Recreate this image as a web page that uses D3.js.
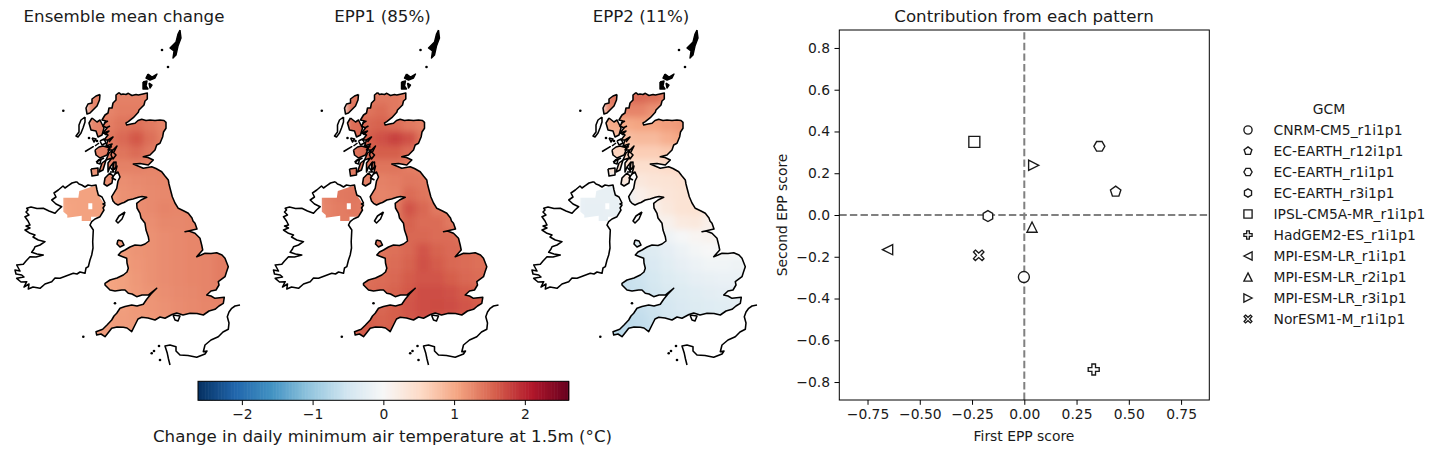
<!DOCTYPE html>
<html><head><meta charset="utf-8">
<script src="https://cdn.jsdelivr.net/npm/d3@7"></script>
<style>html,body{margin:0;padding:0;background:#fff}svg{display:block}text{font-family:"DejaVu Sans";fill:#1a1a1a}</style>
</head><body><svg id="c" width="1440" height="454"></svg>
<script>
// ---------- data ----------
const n = null;
const panelTitles = ["Ensemble mean change","EPP1 (85%)","EPP2 (11%)"];
const rdbuColors = ["#053061","#2166ac","#4393c3","#92c5de","#d1e5f0","#f7f7f7","#fddbc7","#f4a582","#d6604d","#b2182b","#67001f"];
// gridded temperature change (deg C), rows north to south, 14-unit cells
const ensembleMean = [
[n,n,1.3,1.3,1.32,1.32,1.3,1.3,n,n,n,n,n],
[n,n,1.3,1.3,1.35,1.35,1.32,1.3,n,n,n,n,n],
[n,n,1.3,1.35,1.42,1.45,1.38,1.3,1.28,n,n,n,n],
[n,n,1.3,1.4,1.5,1.62,1.45,1.32,1.28,n,n,n,n],
[n,n,1.3,1.35,1.42,1.48,1.38,1.3,1.28,n,n,n,n],
[n,n,1.25,1.3,1.32,1.32,1.3,1.3,1.28,1.28,n,n,n],
[1.07,1.07,1.07,1.22,1.22,1.25,1.27,1.28,1.28,1.28,n,n,n],
[1.07,1.07,1.07,1.07,1.2,1.22,1.25,1.27,1.28,1.28,n,n,n],
[1.05,1.07,1.07,1.07,1.2,1.22,1.25,1.3,1.28,1.28,1.28,n,n],
[1.05,1.07,1.07,1.07,1.2,1.22,1.22,1.27,1.27,1.28,1.28,n,n],
[n,n,n,1.1,1.12,1.2,1.2,1.24,1.26,1.28,1.3,1.3,n],
[n,n,n,1.12,1.12,1.18,1.2,1.24,1.26,1.28,1.3,1.33,1.33],
[n,n,n,1.1,1.12,1.16,1.2,1.24,1.26,1.28,1.3,1.35,1.35],
[n,n,1.05,1.05,1.08,1.15,1.2,1.24,1.26,1.28,1.3,1.35,1.35],
[n,n,1.05,1.05,1.08,1.14,1.18,1.22,1.25,1.27,1.3,1.32,1.32],
[n,n,1.08,1.08,1.1,1.14,1.17,1.2,1.24,1.26,1.28,1.3,1.3],
[n,1.1,1.1,1.1,1.12,1.13,1.15,1.18,1.22,1.24,1.25,n,n],
[n,1.12,1.12,1.12,1.12,1.12,1.15,n,n,n,n,n,n]];
const epp1 = [
[n,n,1.38,1.38,1.38,1.38,1.32,1.28,n,n,n,n,n],
[n,n,1.42,1.42,1.47,1.38,1.32,1.28,n,n,n,n,n],
[n,n,1.47,1.52,1.55,1.48,1.38,1.32,1.3,n,n,n,n],
[n,n,1.47,1.58,1.68,1.78,1.68,1.42,1.32,n,n,n,n],
[n,n,1.42,1.52,1.58,1.58,1.48,1.35,1.32,n,n,n,n],
[n,n,1.38,1.42,1.42,1.42,1.35,1.32,1.3,1.3,n,n,n],
[1.32,1.35,1.35,1.32,1.32,1.35,1.4,1.38,1.32,1.32,n,n,n],
[1.32,1.38,1.4,1.35,1.3,1.32,1.48,1.42,1.32,1.32,n,n,n],
[1.3,1.35,1.38,1.35,1.32,1.38,1.65,1.52,1.38,1.38,1.38,n,n],
[1.3,1.35,1.35,1.35,1.32,1.42,1.55,1.48,1.48,1.38,1.38,n,n],
[n,n,n,1.42,1.42,1.48,1.52,1.52,1.48,1.48,1.42,1.42,n],
[n,n,n,1.42,1.42,1.45,1.52,1.65,1.55,1.5,1.48,1.45,1.42],
[n,n,n,1.42,1.45,1.48,1.55,1.68,1.6,1.52,1.48,1.45,1.45],
[n,n,1.42,1.45,1.48,1.52,1.6,1.65,1.65,1.58,1.52,1.48,1.48],
[n,n,1.42,1.48,1.5,1.55,1.62,1.7,1.7,1.68,1.6,1.55,1.52],
[n,n,1.48,1.52,1.52,1.58,1.65,1.7,1.72,1.7,1.65,1.6,1.55],
[n,1.55,1.55,1.58,1.55,1.58,1.62,1.68,1.65,1.6,1.58,n,n],
[n,1.55,1.55,1.6,1.58,1.58,1.58,n,n,n,n,n,n]];
const epp2 = [
[n,n,1.4,1.5,1.5,1.45,1.35,1.3,n,n,n,n,n],
[n,n,1.3,1.3,1.3,1.2,1.1,1.1,n,n,n,n,n],
[n,n,1.0,1.0,1.05,1.05,1.1,1.15,1.15,n,n,n,n],
[n,n,.8,.8,.85,.85,.95,1.05,1.05,n,n,n,n],
[n,n,.6,.6,.65,.65,.7,.7,.7,n,n,n,n],
[n,n,.45,.45,.45,.45,.5,.55,.55,.55,n,n,n],
[-.2,-.2,-.2,.3,.3,.35,.38,.42,.42,.42,n,n,n],
[-.2,-.2,-.2,-.2,.15,.25,.33,.38,.38,.38,n,n,n],
[-.22,-.22,-.2,-.2,.1,.15,.28,.38,.4,.3,.3,n,n],
[-.22,-.22,-.22,-.2,.1,.1,.12,.25,.28,.15,.12,n,n],
[n,n,n,-.3,-.3,-.15,-.12,-.03,.06,.1,.08,.05,n],
[n,n,n,-.4,-.38,-.34,-.25,-.15,-.06,0,-.02,0,0],
[n,n,n,-.48,-.45,-.4,-.3,-.22,-.15,-.1,-.1,-.12,-.12],
[n,n,-.6,-.6,-.55,-.45,-.36,-.3,-.24,-.2,-.18,-.18,-.18],
[n,n,-.6,-.6,-.58,-.5,-.42,-.36,-.32,-.28,-.25,-.22,-.22],
[n,n,-.65,-.62,-.6,-.55,-.46,-.4,-.36,-.33,-.3,-.28,-.28],
[n,-.72,-.72,-.7,-.65,-.58,-.5,-.44,-.42,-.38,-.36,n,n],
[n,-.72,-.72,-.7,-.68,-.62,-.55,n,n,n,n,n,n]];
const fields = [ensembleMean, epp1, epp2];
// coastlines as [east, south] map-grid units
const greatBritain = [[119,92.7],[121,94.5],[123,94],[126,94.5],[128.3,93.3],[132,95.5],[136,94.5],[138.3,95],[143,94],[147.3,93],[147.3,99],[145,101],[144,105],[141,108],[139,110],[138.3,112.3],[133.3,117.7],[128.3,121.7],[126,123],[126.7,125],[131,124],[135,123.3],[138,120.5],[141.7,119.3],[146,120.5],[150,120],[155,120.5],[160,120],[164,120.5],[166,122.3],[166,128.3],[163.5,132],[162.7,136.7],[160,143.3],[156.7,145],[155,150],[150,155],[143.3,156.7],[148,157.5],[153.3,160],[148.3,165],[140,163.5],[133.3,164],[138,166],[143.3,168.3],[151.7,166.7],[156,168.5],[161.7,171.7],[165,176],[168.3,180],[169,184],[170,188],[172.3,196.7],[175,203],[178.3,208.3],[184,211],[188.3,213.3],[192,218],[193,221],[195,223.3],[197,229],[185,231.7],[189,231],[195,233.3],[200,238.3],[201.7,245],[202.7,250],[196.7,256.7],[201,255],[205,253.3],[211,253.5],[216.7,252.7],[222,255],[225,258.3],[228.3,266.7],[226.5,272],[225,276.7],[218.3,281.7],[219,285],[216,290],[211,291],[206.7,295],[211,296],[215,298.3],[224.3,297.3],[223.3,303.3],[219,306],[215,309.3],[209,311],[203.3,315],[197,313.5],[190,313.3],[183,315],[176.7,313],[172,314.5],[165,318.3],[160,317],[155,320],[148,318],[141.7,317.3],[138,319],[135,325],[131.7,331.7],[127,328],[123.3,327.3],[117,327],[111.7,328.3],[108,333],[105,336.7],[101,334],[96.7,335],[96,331.7],[102.7,329.3],[107,325],[111.7,320],[114,316],[116.7,313.3],[120,308.3],[125,306.5],[131.7,305],[137,306],[143.3,304.3],[146.7,299.3],[151,294],[156.7,288.3],[152,292],[148.3,295],[142,295],[136.7,296.7],[132,294],[128.3,293.3],[125,290],[121.7,290],[115,291],[110,290],[105,285],[105,283.3],[110,280],[117,278],[123.3,275],[127,272],[128.3,268.3],[127,263],[126.7,258.3],[122,256.5],[118.3,255],[121,252],[125,250],[130,247],[135,245],[141,245.5],[145,244],[149,241],[148.3,236.7],[146,230],[145,223.3],[141,218],[140,213.3],[137,208],[136.7,203.3],[141,200],[146.7,197.3],[142,196.5],[138.3,197.3],[133,199],[128.3,200],[124,202.5],[121.7,203.3],[118,205],[115,203.3],[113,201],[111.7,196.7],[116.7,188.3],[118,181],[120,177],[118,172],[115,174],[117,166],[113,170],[114,162],[110,167],[108,172],[108,163],[112,158],[106,160],[109,153],[113,150],[108,150],[112,144],[106,146],[108,140],[104,140],[108,135],[103,133],[107,128],[103,126],[106,121],[102,120],[105,115],[108,113],[109,108],[112,108],[113,103],[116,100],[116,95],[119,92.7]];
const ireland = [[76.7,181.7],[79,184],[81.7,185],[85,187],[88,185],[91.7,185.7],[96,185],[97,190],[98.3,195],[102,197],[105,203],[103,204],[105,205],[103,208],[104,210],[100,216.7],[95,219],[91.7,221.7],[90,225],[93.3,230],[93,236],[92.7,241.7],[93,248],[91.7,255],[90,260],[88.3,266.7],[86,268],[85,273.3],[80,272],[77,274],[73.3,273.3],[66,276],[60,278.3],[55,278],[51.7,281.7],[45,284],[40,288.3],[33,287],[28.3,289],[29,284],[24,287],[26.7,281.7],[21,282],[16.7,278.3],[24,277],[21.7,275],[16,274],[15,270],[20,271],[16.7,265],[23.3,264.3],[26,261],[30,256.7],[36,257],[43.3,255],[37,254],[31.7,252.3],[34,249],[35,246.7],[40,245],[45,241.7],[38.3,240],[33,237],[35,235],[30,233.3],[25,230],[30,228],[26,226],[30,225],[28,221],[25,216.7],[29,215],[26,212],[28,210],[26.7,208.3],[31,207],[37,208.5],[43.3,208.3],[49,211],[55,213.3],[58,210],[61.7,206.7],[56,204],[51.7,200],[56,197],[54,193],[58.3,190],[63,186],[65,188],[68.3,185.7],[72,183],[76.7,181.7]];
const northIrelandLand = [[63.3,197.7],[78.3,197.7],[79.3,191],[91.7,186.7],[96,185.7],[98.3,195],[105,205],[104,210],[99.3,216.7],[91,216.7],[91,221],[81.7,221],[81.7,215.7],[67.3,217.7],[67.3,215],[63.3,211.7]];
const loughNeagh = [[88.3,203.3],[92.3,203.3],[92.3,209.3],[88.3,209.3]];
const france = [[240,305],[235,306],[231.7,308.3],[229,312],[227.3,316.7],[229,323],[228.3,329.3],[223,332],[218.3,336.7],[211,340],[205,345],[203.3,351.7],[207,351],[205,354],[196.7,357.3],[188,355.5],[180,355],[176,351],[176,346.7],[170,345],[165,346],[167.3,353.3],[168.5,359],[170,365]];
const filledIslands = [
[[100,94.5],[99.5,100],[97,106],[93,110],[90,113],[87,114],[86,108],[88,104],[92,103],[92,99],[96,96],[100,94.5]],
[[92,118],[97,122],[100,120],[104,128],[102,135],[98,137],[96,131],[91,130],[89,123],[92,118]],
[[95,150],[99,147],[103,146],[110,148],[107,155],[100,158],[96,155],[95,150]],
[[91,169],[98,168],[98,175],[92,176],[91,169]],
[[102,163],[106,160],[103,170],[99,172],[102,163]],
[[110,173],[113,176],[112,183],[107,186],[104,184],[105,178],[110,173]],
[[118,240],[122,241],[124,245],[120,247],[117,244],[118,240]]];
const outlineIslands = [
[[85,117],[85,122],[83,128],[81,133],[78,137],[76,136],[79,132],[79,125],[81,120],[85,117]],
[[85,151.7],[93.3,146.7],[86,151],[85,151.7]],
[[100,141],[104,139],[106,143],[102,145],[100,141]],
[[92,138],[96,139],[94,142],[92,138]],
[[98,160],[101,159],[100,164],[97,163],[98,160]],
[[112,151],[116,155],[113,159],[111,155],[112,151]],
[[113,163],[116,162],[116,168],[113,170],[113,163]],
[[125,212],[122,219],[118,223],[116,221],[119,216],[125,212]],
[[173,315],[180,316],[178,321],[175,320],[173,315]]];
const solidIslands = [
[[180,30],[178,34],[177,38],[176,42],[172,46],[170,48],[174,51],[173,58],[176,55],[178,46],[181,38],[180,30]],
[[148,74],[152,77],[157,74],[155,78],[150,80],[146,78],[148,74]],
[[143,82],[147,81],[146,86],[148,89],[143,89],[143,82]],
[[149,83],[152,85],[150,88],[149,83]]];
const lochLines = [
[[113,150],[117,146],[114,152]],[[108,140],[113,137],[109,142]],[[106,146],[112,147]],
[[103,133],[109,131],[105,135]],[[110,167],[114,172],[110,172]],[[115,174],[112,178],[116,180]],
[[96,162],[104,158]],[[99,143],[95,146]],[[106,128],[110,126]],[[104,123],[108,121]]];
const dotIslands = [[162,50],[168,67],[63.3,110.7],[83.3,336.7],[115,303.3],[151.7,353.3],[154,351],[160,360],[159,346],[89,138],[97,141]];
// scatter
const gcmNames = ["CNRM-CM5_r1i1p1","EC-EARTH_r12i1p1","EC-EARTH_r1i1p1","EC-EARTH_r3i1p1","IPSL-CM5A-MR_r1i1p1","HadGEM2-ES_r1i1p1","MPI-ESM-LR_r1i1p1","MPI-ESM-LR_r2i1p1","MPI-ESM-LR_r3i1p1","NorESM1-M_r1i1p1"];
const firstScore = [-0.002,0.437,0.359,-0.174,-0.239,0.332,-0.654,0.037,0.045,-0.218];
const secondScore = [-0.297,0.112,0.329,-0.005,0.35,-0.74,-0.166,-0.058,0.238,-0.193];
const markerKinds = ["circle","pentagon","hexFlat","hexPoint","square","plus","left","up","right","cross"];
const xTicks = [-0.75,-0.5,-0.25,0,0.25,0.5,0.75];
const yTicks = [-0.8,-0.6,-0.4,-0.2,0,0.2,0.4,0.6,0.8];
const cbarTicks = [-2,-1,0,1,2];

// ---------- helpers ----------
const svg = d3.select("#c");
const minus = s => s.replace("-", "\u2212");
const limit = 2.62;
const color = d3.scaleLinear().domain(d3.range(11).map(i => -limit + i * limit / 5)).range(rdbuColors).interpolate(d3.interpolateRgb);
const defs = svg.append("defs");
defs.append("filter").attr("id","soft").attr("x","-10%").attr("y","-10%").attr("width","120%").attr("height","120%")
  .append("feGaussianBlur").attr("stdDeviation",3.2);

function markerPath(kind, r) {
  const poly = (k, rot) => "M" + d3.range(k).map(i => { const a = rot + i * 2 * Math.PI / k; return [r * Math.sin(a), -r * Math.cos(a)].join(","); }).join("L") + "Z";
  const s = r;
  switch (kind) {
    case "circle": return d3.arc()({innerRadius:0,outerRadius:r,startAngle:0,endAngle:2*Math.PI});
    case "pentagon": return poly(5, 0);
    case "hexFlat": return poly(6, Math.PI / 6);
    case "hexPoint": return poly(6, 0);
    case "square": return `M${-s},${-s}H${s}V${s}H${-s}Z`;
    case "up": return `M0,${-s}L${s},${s}H${-s}Z`;
    case "left": return `M${-s},0L${s},${-s}V${s}Z`;
    case "right": return `M${s},0L${-s},${-s}V${s}Z`;
    case "plus": { const a=s,b=s*.33; return `M${-b},${-a}H${b}V${-b}H${a}V${b}H${b}V${a}H${-b}V${b}H${-a}V${-b}H${-b}Z`; }
    case "cross": { const a=s*.95,b=s*.34; return `M${-a+b},${-a}L0,${-a+b*1.6}L${a-b},${-a}L${a},${-a+b}L${a-b*1.6},0L${a},${a-b}L${a-b},${a}L0,${a-b*1.6}L${-a+b},${a}L${-a},${a-b}L${-a+b*1.6},0L${-a},${-a+b}Z`; }
  }
}

// ---------- maps ----------
const panelStart = [0, 258.5, 517];
const mapCell = 14, mapEast0 = 60, mapSouth0 = 90;
panelStart.forEach((p0, k) => {
  const east = d3.scaleLinear().domain([0,260]).range([p0, p0 + 260]);
  const south = d3.scaleLinear().domain([0,454]).range([0,454]);
  const line = d3.line().x(d => east(d[0])).y(d => south(d[1]));
  const cp = defs.append("clipPath").attr("id","land"+k);
  [greatBritain, ...filledIslands].forEach(r => cp.append("path").attr("d", line(r)));
  cp.append("path").attr("clip-rule","evenodd").attr("d", line(northIrelandLand) + "Z" + line(loughNeagh) + "Z");
  const g = svg.append("g");
  const cells = [];
  fields[k].forEach((row,j) => row.forEach((v,i) => { if (v !== null) cells.push({i,j,v}); }));
  g.append("g").attr("clip-path",`url(#land${k})`).append("g").attr("filter","url(#soft)")
    .selectAll("rect").data(cells).join("rect")
    .attr("x", d => east(mapEast0 + d.i * mapCell) - .5)
    .attr("y", d => south(mapSouth0 + d.j * mapCell) - .5)
    .attr("width", east(mapCell) - east(0) + 1)
    .attr("height", south(mapCell) - south(0) + 1)
    .attr("fill", d => color(d.v));
  const strokes = [greatBritain, ireland, france, ...filledIslands, ...outlineIslands, ...lochLines];
  g.selectAll("path.coast").data(strokes).join("path").attr("class","coast")
    .attr("d", line).attr("fill","none").attr("stroke","#000").attr("stroke-width",1.55).attr("stroke-linejoin","round");
  g.selectAll("path.solid").data(solidIslands).join("path").attr("class","solid")
    .attr("d", line).attr("fill","#000").attr("stroke","#000").attr("stroke-width",1.4).attr("stroke-linejoin","round");
  g.selectAll("circle.dot").data(dotIslands).join("circle").attr("class","dot")
    .attr("cx", d => east(d[0])).attr("cy", d => south(d[1])).attr("r",1.3).attr("fill","#000");
  svg.append("text").attr("x", east(124)).attr("y", 22).attr("text-anchor","middle").attr("font-size",16.67).text(panelTitles[k]);
});

// ---------- colour bar ----------
const cbX = d3.scaleLinear().domain([-limit,limit]).range([198,568.7]);
const cbTop = 381.3, cbBottom = 400.3;
const stepsBar = d3.range(256).map(i => -limit + (i + .5) * 2 * limit / 256);
svg.append("g").selectAll("rect").data(stepsBar).join("rect")
  .attr("x", d => cbX(d - limit / 256)).attr("y", cbTop)
  .attr("width", cbX(limit / 128) - cbX(0) + .6).attr("height", cbBottom - cbTop)
  .attr("fill", d => color(d));
svg.append("rect").attr("x",198).attr("y",cbTop).attr("width",370.7).attr("height",cbBottom-cbTop).attr("fill","none").attr("stroke","#000").attr("stroke-width",1);
const cbAxis = svg.append("g").attr("transform",`translate(0,${cbBottom})`)
  .call(d3.axisBottom(cbX).tickValues(cbarTicks).tickSize(4.8).tickPadding(4.5).tickFormat(d => minus(String(d))));
cbAxis.select(".domain").remove();
cbAxis.selectAll("text").attr("font-size",13.89).attr("font-family","DejaVu Sans");
svg.append("text").attr("x",382.5).attr("y",442).attr("text-anchor","middle").attr("font-size",16.67).text("Change in daily minimum air temperature at 1.5m (°C)");

// ---------- scatter ----------
const L = 839.3, R = 1209.3, T = 30, B = 400;
const x = d3.scaleLinear().domain([-0.885,0.885]).range([L,R]);
const y = d3.scaleLinear().domain([-0.886,0.886]).range([B,T]);
svg.append("line").attr("x1",L).attr("x2",R).attr("y1",y(0)).attr("y2",y(0)).attr("stroke","#808080").attr("stroke-width",2).attr("stroke-dasharray","7.4,3.2");
svg.append("line").attr("x1",x(0)).attr("x2",x(0)).attr("y1",B).attr("y2",T).attr("stroke","#808080").attr("stroke-width",2).attr("stroke-dasharray","7.4,3.2");
svg.append("g").selectAll("path").data(gcmNames).join("path")
  .attr("transform",(d,i) => `translate(${x(firstScore[i])},${y(secondScore[i])})`)
  .attr("d",(d,i) => markerPath(markerKinds[i], ["up","left","right"].includes(markerKinds[i]) ? 5.1 : 5.5))
  .attr("fill","#fff").attr("stroke","#1a1a1a").attr("stroke-width",1.35);
svg.append("rect").attr("x",L).attr("y",T).attr("width",R-L).attr("height",B-T).attr("fill","none").attr("stroke","#000").attr("stroke-width",1);
const ax = svg.append("g").attr("transform",`translate(0,${B})`)
  .call(d3.axisBottom(x).tickValues(xTicks).tickSize(4.8).tickPadding(4.5).tickFormat(d => minus(d3.format(".2f")(d))));
const ay = svg.append("g").attr("transform",`translate(${L},0)`)
  .call(d3.axisLeft(y).tickValues(yTicks).tickSize(4.8).tickPadding(4.5).tickFormat(d => minus(d3.format(".1f")(d))));
[ax,ay].forEach(a => { a.select(".domain").remove(); a.selectAll("text").attr("font-size",13.89).attr("font-family","DejaVu Sans"); });
svg.append("text").attr("x",1024).attr("y",441).attr("text-anchor","middle").attr("font-size",13.89).text("First EPP score");
svg.append("text").attr("transform",`translate(787,${y(0)}) rotate(-90)`).attr("text-anchor","middle").attr("font-size",13.89).text("Second EPP score");
svg.append("text").attr("x",1024).attr("y",22).attr("text-anchor","middle").attr("font-size",16.67).text("Contribution from each pattern");

// ---------- legend ----------
svg.append("text").attr("x",1329).attr("y",114).attr("text-anchor","middle").attr("font-size",13.89).text("GCM");
const leg = svg.append("g").selectAll("g").data(gcmNames).join("g")
  .attr("transform",(d,i) => `translate(0,${130 + i * 21})`);
leg.append("path").attr("transform","translate(1248,0)").attr("d",(d,i) => markerPath(markerKinds[i], 4.1))
  .attr("fill","#fff").attr("stroke","#1a1a1a").attr("stroke-width",1.35);
leg.append("text").attr("x",1273.5).attr("y",5).attr("font-size",13.89).text(d => d);
</script></body></html>
